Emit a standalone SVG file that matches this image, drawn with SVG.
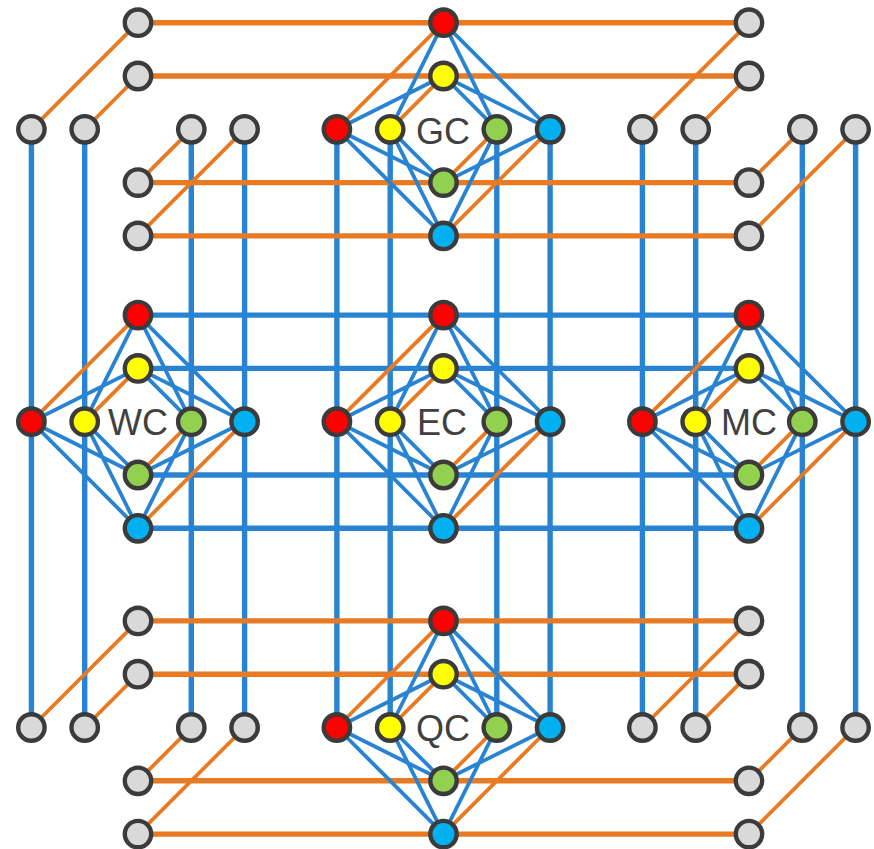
<svg xmlns="http://www.w3.org/2000/svg" xmlns:xlink="http://www.w3.org/1999/xlink" width="874" height="849" viewBox="0 0 874 849">
  <style>
    .long-b { stroke: #2884d2; stroke-width: 5.4; fill: none; }
    .long-o { stroke: #e87a23; stroke-width: 5.4; fill: none; }
    .edge-b { stroke: #2884d2; stroke-width: 3.8; fill: none; }
    .edge-o { stroke: #e87a23; stroke-width: 3.8; fill: none; }
    circle { stroke: #3b3b3b; stroke-width: 4.4; }
    .gray { fill: #d9d9d9; }
    .red { fill: #ff0000; }
    .yel { fill: #ffff00; }
    .grn { fill: #92d050; }
    .blu { fill: #00b0f0; }
    .lbl { font-family: "Liberation Sans", Arial, sans-serif; font-size: 36px; fill: #404040; text-anchor: middle; }
  </style>
  <defs>
    <!-- cross edges between the vertical and horizontal axes of one cluster (different colours) -->
    <path id="k44" d="M0 -106.6L-53.3 0M0 -106.6L53.3 0M0 -106.6L106.6 0M0 -53.3L-106.6 0M0 -53.3L53.3 0M0 -53.3L106.6 0M0 53.3L-106.6 0M0 53.3L-53.3 0M0 53.3L106.6 0M0 106.6L-106.6 0M0 106.6L-53.3 0M0 106.6L53.3 0"/>
    <!-- same-colour links between the two axes of one cluster -->
    <path id="diag" d="M-106.6 0L0 -106.6M-53.3 0L0 -53.3M53.3 0L0 53.3M106.6 0L0 106.6"/>
  </defs>

  <g id="connectors">
    <!-- vertical trunks -->
    <g class="long-b">
      <line x1="31.4" y1="129.3" x2="31.4" y2="727.5"/>
      <line x1="84.7" y1="129.3" x2="84.7" y2="727.5"/>
      <line x1="191.3" y1="129.3" x2="191.3" y2="727.5"/>
      <line x1="244.6" y1="129.3" x2="244.6" y2="727.5"/>
      <line x1="336.9" y1="129.3" x2="336.9" y2="727.5"/>
      <line x1="390.2" y1="129.3" x2="390.2" y2="727.5"/>
      <line x1="496.8" y1="129.3" x2="496.8" y2="727.5"/>
      <line x1="550.1" y1="129.3" x2="550.1" y2="727.5"/>
      <line x1="642.4" y1="129.3" x2="642.4" y2="727.5"/>
      <line x1="695.7" y1="129.3" x2="695.7" y2="727.5"/>
      <line x1="802.3" y1="129.3" x2="802.3" y2="727.5"/>
      <line x1="855.6" y1="129.3" x2="855.6" y2="727.5"/>
    </g>
    <!-- horizontal trunks -->
    <g class="long-o">
      <line x1="138" y1="22.7" x2="749" y2="22.7"/>
      <line x1="138" y1="76" x2="749" y2="76"/>
      <line x1="138" y1="182.6" x2="749" y2="182.6"/>
      <line x1="138" y1="235.9" x2="749" y2="235.9"/>
      <line x1="138" y1="620.9" x2="749" y2="620.9"/>
      <line x1="138" y1="674.2" x2="749" y2="674.2"/>
      <line x1="138" y1="780.8" x2="749" y2="780.8"/>
      <line x1="138" y1="834.1" x2="749" y2="834.1"/>
    </g>
    <g class="long-b">
      <line x1="138" y1="315.1" x2="749" y2="315.1"/>
      <line x1="138" y1="368.4" x2="749" y2="368.4"/>
      <line x1="138" y1="475" x2="749" y2="475"/>
      <line x1="138" y1="528.3" x2="749" y2="528.3"/>
    </g>
    <!-- cluster internal edges -->
    <g class="edge-b">
      <use xlink:href="#k44" href="#k44" x="443.5" y="129.3"/>
      <use xlink:href="#k44" href="#k44" x="138" y="421.7"/>
      <use xlink:href="#k44" href="#k44" x="443.5" y="421.7"/>
      <use xlink:href="#k44" href="#k44" x="749" y="421.7"/>
      <use xlink:href="#k44" href="#k44" x="443.5" y="727.5"/>
    </g>
    <g class="edge-o">
      <use xlink:href="#diag" href="#diag" x="138" y="129.3"/>
      <use xlink:href="#diag" href="#diag" x="443.5" y="129.3"/>
      <use xlink:href="#diag" href="#diag" x="749" y="129.3"/>
      <use xlink:href="#diag" href="#diag" x="138" y="421.7"/>
      <use xlink:href="#diag" href="#diag" x="443.5" y="421.7"/>
      <use xlink:href="#diag" href="#diag" x="749" y="421.7"/>
      <use xlink:href="#diag" href="#diag" x="138" y="727.5"/>
      <use xlink:href="#diag" href="#diag" x="443.5" y="727.5"/>
      <use xlink:href="#diag" href="#diag" x="749" y="727.5"/>
    </g>
  </g>

  <!-- top-left cluster -->
  <g id="tl">
    <g id="tl-v1"><circle class="gray" cx="138" cy="22.7" r="13.2"/></g>
    <g id="tl-v2"><circle class="gray" cx="138" cy="76" r="13.2"/></g>
    <g id="tl-v3"><circle class="gray" cx="138" cy="182.6" r="13.2"/></g>
    <g id="tl-v4"><circle class="gray" cx="138" cy="235.9" r="13.2"/></g>
    <g id="tl-h1"><circle class="gray" cx="31.4" cy="129.3" r="13.2"/></g>
    <g id="tl-h2"><circle class="gray" cx="84.7" cy="129.3" r="13.2"/></g>
    <g id="tl-h3"><circle class="gray" cx="191.3" cy="129.3" r="13.2"/></g>
    <g id="tl-h4"><circle class="gray" cx="244.6" cy="129.3" r="13.2"/></g>
  </g>

  <!-- GC cluster -->
  <g id="gc">
    <g id="gc-r1"><circle class="red" cx="443.5" cy="22.7" r="13.2"/></g>
    <g id="gc-y1"><circle class="yel" cx="443.5" cy="76" r="13.2"/></g>
    <g id="gc-g1"><circle class="grn" cx="443.5" cy="182.6" r="13.2"/></g>
    <g id="gc-b1"><circle class="blu" cx="443.5" cy="235.9" r="13.2"/></g>
    <g id="gc-r2"><circle class="red" cx="336.9" cy="129.3" r="13.2"/></g>
    <g id="gc-y2"><circle class="yel" cx="390.2" cy="129.3" r="13.2"/></g>
    <g id="gc-g2"><circle class="grn" cx="496.8" cy="129.3" r="13.2"/></g>
    <g id="gc-b2"><circle class="blu" cx="550.1" cy="129.3" r="13.2"/></g>
    <text class="lbl" x="443" y="144">GC</text>
  </g>

  <!-- top-right cluster -->
  <g id="tr">
    <g id="tr-v1"><circle class="gray" cx="749" cy="22.7" r="13.2"/></g>
    <g id="tr-v2"><circle class="gray" cx="749" cy="76" r="13.2"/></g>
    <g id="tr-v3"><circle class="gray" cx="749" cy="182.6" r="13.2"/></g>
    <g id="tr-v4"><circle class="gray" cx="749" cy="235.9" r="13.2"/></g>
    <g id="tr-h1"><circle class="gray" cx="642.4" cy="129.3" r="13.2"/></g>
    <g id="tr-h2"><circle class="gray" cx="695.7" cy="129.3" r="13.2"/></g>
    <g id="tr-h3"><circle class="gray" cx="802.3" cy="129.3" r="13.2"/></g>
    <g id="tr-h4"><circle class="gray" cx="855.6" cy="129.3" r="13.2"/></g>
  </g>

  <!-- WC cluster -->
  <g id="wc">
    <g id="wc-r1"><circle class="red" cx="138" cy="315.1" r="13.2"/></g>
    <g id="wc-y1"><circle class="yel" cx="138" cy="368.4" r="13.2"/></g>
    <g id="wc-g1"><circle class="grn" cx="138" cy="475" r="13.2"/></g>
    <g id="wc-b1"><circle class="blu" cx="138" cy="528.3" r="13.2"/></g>
    <g id="wc-r2"><circle class="red" cx="31.4" cy="421.7" r="13.2"/></g>
    <g id="wc-y2"><circle class="yel" cx="84.7" cy="421.7" r="13.2"/></g>
    <g id="wc-g2"><circle class="grn" cx="191.3" cy="421.7" r="13.2"/></g>
    <g id="wc-b2"><circle class="blu" cx="244.6" cy="421.7" r="13.2"/></g>
    <text class="lbl" x="138" y="434.5">WC</text>
  </g>

  <!-- EC cluster -->
  <g id="ec">
    <g id="ec-r1"><circle class="red" cx="443.5" cy="315.1" r="13.2"/></g>
    <g id="ec-y1"><circle class="yel" cx="443.5" cy="368.4" r="13.2"/></g>
    <g id="ec-g1"><circle class="grn" cx="443.5" cy="475" r="13.2"/></g>
    <g id="ec-b1"><circle class="blu" cx="443.5" cy="528.3" r="13.2"/></g>
    <g id="ec-r2"><circle class="red" cx="336.9" cy="421.7" r="13.2"/></g>
    <g id="ec-y2"><circle class="yel" cx="390.2" cy="421.7" r="13.2"/></g>
    <g id="ec-g2"><circle class="grn" cx="496.8" cy="421.7" r="13.2"/></g>
    <g id="ec-b2"><circle class="blu" cx="550.1" cy="421.7" r="13.2"/></g>
    <text class="lbl" x="442" y="434.5">EC</text>
  </g>

  <!-- MC cluster -->
  <g id="mc">
    <g id="mc-r1"><circle class="red" cx="749" cy="315.1" r="13.2"/></g>
    <g id="mc-y1"><circle class="yel" cx="749" cy="368.4" r="13.2"/></g>
    <g id="mc-g1"><circle class="grn" cx="749" cy="475" r="13.2"/></g>
    <g id="mc-b1"><circle class="blu" cx="749" cy="528.3" r="13.2"/></g>
    <g id="mc-r2"><circle class="red" cx="642.4" cy="421.7" r="13.2"/></g>
    <g id="mc-y2"><circle class="yel" cx="695.7" cy="421.7" r="13.2"/></g>
    <g id="mc-g2"><circle class="grn" cx="802.3" cy="421.7" r="13.2"/></g>
    <g id="mc-b2"><circle class="blu" cx="855.6" cy="421.7" r="13.2"/></g>
    <text class="lbl" x="749" y="434.5">MC</text>
  </g>

  <!-- bottom-left cluster -->
  <g id="bl">
    <g id="bl-v1"><circle class="gray" cx="138" cy="620.9" r="13.2"/></g>
    <g id="bl-v2"><circle class="gray" cx="138" cy="674.2" r="13.2"/></g>
    <g id="bl-v3"><circle class="gray" cx="138" cy="780.8" r="13.2"/></g>
    <g id="bl-v4"><circle class="gray" cx="138" cy="834.1" r="13.2"/></g>
    <g id="bl-h1"><circle class="gray" cx="31.4" cy="727.5" r="13.2"/></g>
    <g id="bl-h2"><circle class="gray" cx="84.7" cy="727.5" r="13.2"/></g>
    <g id="bl-h3"><circle class="gray" cx="191.3" cy="727.5" r="13.2"/></g>
    <g id="bl-h4"><circle class="gray" cx="244.6" cy="727.5" r="13.2"/></g>
  </g>

  <!-- QC cluster -->
  <g id="qc">
    <g id="qc-r1"><circle class="red" cx="443.5" cy="620.9" r="13.2"/></g>
    <g id="qc-y1"><circle class="yel" cx="443.5" cy="674.2" r="13.2"/></g>
    <g id="qc-g1"><circle class="grn" cx="443.5" cy="780.8" r="13.2"/></g>
    <g id="qc-b1"><circle class="blu" cx="443.5" cy="834.1" r="13.2"/></g>
    <g id="qc-r2"><circle class="red" cx="336.9" cy="727.5" r="13.2"/></g>
    <g id="qc-y2"><circle class="yel" cx="390.2" cy="727.5" r="13.2"/></g>
    <g id="qc-g2"><circle class="grn" cx="496.8" cy="727.5" r="13.2"/></g>
    <g id="qc-b2"><circle class="blu" cx="550.1" cy="727.5" r="13.2"/></g>
    <text class="lbl" x="443" y="740.5">QC</text>
  </g>

  <!-- bottom-right cluster -->
  <g id="br">
    <g id="br-v1"><circle class="gray" cx="749" cy="620.9" r="13.2"/></g>
    <g id="br-v2"><circle class="gray" cx="749" cy="674.2" r="13.2"/></g>
    <g id="br-v3"><circle class="gray" cx="749" cy="780.8" r="13.2"/></g>
    <g id="br-v4"><circle class="gray" cx="749" cy="834.1" r="13.2"/></g>
    <g id="br-h1"><circle class="gray" cx="642.4" cy="727.5" r="13.2"/></g>
    <g id="br-h2"><circle class="gray" cx="695.7" cy="727.5" r="13.2"/></g>
    <g id="br-h3"><circle class="gray" cx="802.3" cy="727.5" r="13.2"/></g>
    <g id="br-h4"><circle class="gray" cx="855.6" cy="727.5" r="13.2"/></g>
  </g>
</svg>
